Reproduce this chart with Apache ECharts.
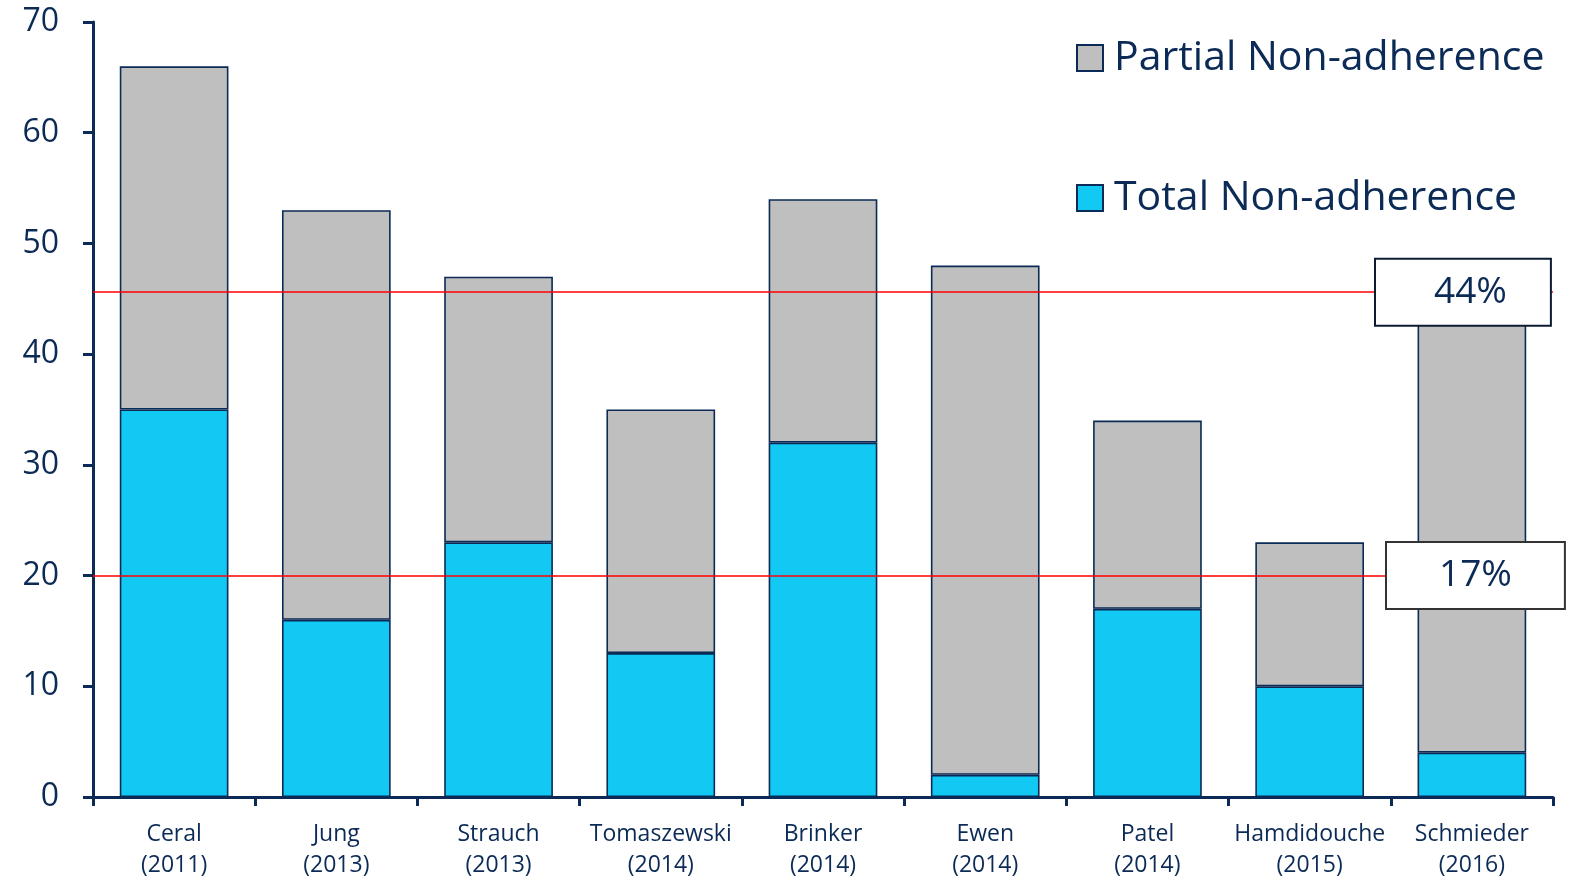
<!DOCTYPE html>
<html>
<head>
<meta charset="utf-8">
<script src="https://cdn.jsdelivr.net/npm/echarts@6/dist/echarts.min.js"></script>
<style>
  html, body { margin: 0; padding: 0; background: #ffffff; }
  #chart { width: 1574px; height: 882px; }
</style>
</head>
<body>
<div id="chart"></div>
<script>
// Studies (author and year) along the x axis
const studies = ['Ceral\n(2011)', 'Jung\n(2013)', 'Strauch\n(2013)', 'Tomaszewski\n(2014)', 'Brinker\n(2014)',
                 'Ewen\n(2014)', 'Patel\n(2014)', 'Hamdidouche\n(2015)', 'Schmieder\n(2016)'];
// Total non-adherence (lower segment)
const totalNonAdherence = [35, 16, 23, 13, 32, 2, 17, 10, 4];
// Partial non-adherence (upper segment, stacked on top of the total)
const partialNonAdherence = [31, 37, 24, 22, 22, 46, 17, 13, 41];
// Reference lines and their boxed labels
const refLineValues = [45.6, 20];
const refLineLabels = ['44%', '17%'];
const yTicks = { min: 0, max: 70, interval: 10 };

const NAVY = '#0b2a55';
const FONT = '"Open Sans", Lato, sans-serif';

const chart = echarts.init(document.getElementById('chart'), null, { renderer: 'canvas' });

const barBorder = { borderColor: NAVY, borderWidth: 1.6 };

chart.setOption({
  animation: false,
  backgroundColor: '#ffffff',
  textStyle: { fontFamily: FONT, color: NAVY },
  grid: { left: 93, right: 21, top: 22, bottom: 85, containLabel: false },
  legend: {
    orient: 'vertical',
    left: 1071,
    top: 29,
    itemWidth: 26,
    itemHeight: 26,
    itemGap: 92,
    icon: 'rect',
    data: ['Partial Non-adherence', 'Total Non-adherence'],
    textStyle: { fontFamily: FONT, fontSize: 41, color: NAVY, lineHeight: 48, padding: [0, 0, 0, 6] }
  },
  xAxis: {
    type: 'category',
    data: studies,
    boundaryGap: true,
    axisLine: { lineStyle: { color: NAVY, width: 3 } },
    axisTick: { show: true, alignWithLabel: false, length: 9, lineStyle: { color: NAVY, width: 3 } },
    axisLabel: { color: NAVY, fontFamily: FONT, fontSize: 23, lineHeight: 31, margin: 22, interval: 0 }
  },
  yAxis: {
    type: 'value',
    min: yTicks.min,
    max: yTicks.max,
    interval: yTicks.interval,
    splitLine: { show: false },
    axisLine: { show: true, lineStyle: { color: NAVY, width: 3 } },
    axisTick: { show: true, length: 10, lineStyle: { color: NAVY, width: 3 } },
    axisLabel: { color: NAVY, fontFamily: FONT, fontSize: 32, margin: 34 }
  },
  series: [
    {
      name: 'Total Non-adherence',
      type: 'bar',
      stack: 'adherence',
      barWidth: '67%',
      data: totalNonAdherence,
      itemStyle: Object.assign({ color: '#12c9f4' }, barBorder)
    },
    {
      name: 'Partial Non-adherence',
      type: 'bar',
      stack: 'adherence',
      barWidth: '67%',
      data: partialNonAdherence,
      itemStyle: Object.assign({ color: '#bfbfbf' }, barBorder),
      markLine: {
        silent: true,
        symbol: ['none', 'none'],
        z: 10,
        lineStyle: { color: '#ff0000', width: 1.5, type: 'solid' },
        data: [
          {
            yAxis: refLineValues[0],
            label: {
              show: true, position: 'end', distance: [-177, 0],
              formatter: refLineLabels[0],
              fontFamily: FONT, fontSize: 37, color: NAVY, lineHeight: 42,
              backgroundColor: '#ffffff', borderColor: '#0d1b30', borderWidth: 2,
              padding: [12, 43, 11, 58]
            }
          },
          {
            yAxis: refLineValues[1],
            label: {
              show: true, position: 'end', distance: [-166, 0],
              formatter: refLineLabels[1],
              fontFamily: FONT, fontSize: 37, color: NAVY, lineHeight: 42,
              backgroundColor: '#ffffff', borderColor: '#333333', borderWidth: 2,
              padding: [12, 52, 11, 52]
            }
          }
        ]
      }
    }
  ]
});
</script>
</body>
</html>
